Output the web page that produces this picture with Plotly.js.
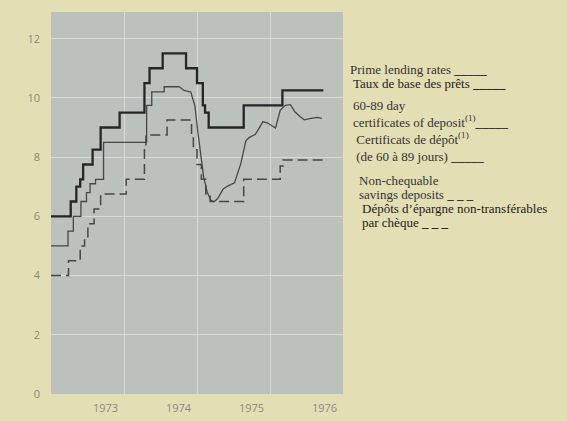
<!DOCTYPE html>
<html>
<head>
<meta charset="utf-8">
<script src="https://cdn.plot.ly/plotly-3.0.1.min.js"></script>
<style>
  html, body { margin: 0; padding: 0; background: #e3deb4; }
  #chart { width: 567px; height: 421px; }
</style>
</head>
<body>
<div id="chart"></div>
<script>
// ---- Data (x in decimal years, y in percent) ----
// Prime lending rates: start of each rate level
var primeX = [1973.0, 1973.27, 1973.347, 1973.40, 1973.44, 1973.57, 1973.68, 1973.94, 1974.28, 1974.35, 1974.53, 1974.85, 1975.0, 1975.08, 1975.11, 1975.16, 1975.64, 1976.17, 1976.73];
var primeY = [6.0, 6.5, 7.0, 7.25, 7.75, 8.25, 9.0, 9.5, 10.5, 11.0, 11.5, 11.0, 10.5, 9.75, 9.5, 9.0, 9.75, 10.25, 10.25];

// 60-89 day certificates of deposit: stepped part (1973-1974)
var cdStepX = [1973.0, 1973.233, 1973.306, 1973.41, 1973.486, 1973.535, 1973.61, 1973.72, 1974.31, 1974.38, 1974.55, 1974.76];
var cdStepY = [5.0, 5.5, 6.0, 6.5, 6.8, 7.1, 7.25, 8.5, 9.75, 10.2, 10.375, 10.375];
// continuous part (late 1974 - 1976)
var cdX = [1974.76, 1974.82, 1974.915, 1974.97, 1975.01, 1975.05, 1975.09, 1975.14, 1975.19, 1975.235, 1975.283, 1975.358, 1975.426, 1975.514, 1975.60, 1975.669, 1975.714, 1975.80, 1975.904, 1975.968, 1976.075, 1976.14, 1976.21, 1976.28, 1976.34, 1976.41, 1976.47, 1976.56, 1976.65, 1976.71];
var cdY = [10.375, 10.25, 10.2, 9.75, 8.88, 8.11, 7.35, 6.81, 6.54, 6.49, 6.6, 6.92, 7.03, 7.13, 7.78, 8.55, 8.66, 8.77, 9.2, 9.15, 8.98, 9.58, 9.75, 9.77, 9.53, 9.37, 9.26, 9.31, 9.34, 9.31];

// Non-chequable savings deposits: start of each rate level
var savX = [1973.0, 1973.24, 1973.40, 1973.46, 1973.505, 1973.59, 1973.68, 1974.03, 1974.28, 1974.30, 1974.59, 1974.925, 1974.95, 1975.0, 1975.06, 1975.12, 1975.18, 1975.64, 1976.14, 1976.18, 1976.75];
var savY = [4.0, 4.5, 5.0, 5.25, 5.75, 6.25, 6.75, 7.25, 8.25, 8.75, 9.25, 8.75, 8.25, 7.75, 7.25, 6.75, 6.5, 7.25, 7.7, 7.9, 7.9];

// Axis labels
var yearGrid = [1974, 1975, 1976];
var yearCenters = [1973.5, 1974.5, 1975.5, 1976.5];
var yearLabels = ['1973', '1974', '1975', '1976'];
var yTicks = [0, 2, 4, 6, 8, 10, 12];

// Legend text lines
var legendLines = [
  {t: 'Prime lending rates <b>_____</b>', fr: false},
  {t: 'Taux de base des prêts <b>_____</b>', fr: true},
  {t: '60-89 day<br>certificates of deposit<sup>(1)</sup><b>_____</b><br>&nbsp;Certificats de dépôt<sup>(1)</sup><br>&nbsp;(de 60 à 89 jours) <b>_____</b>', fr: false},
  {t: 'Non-chequable', fr: false},
  {t: 'savings deposits <b>_ _ _</b>', fr: false},
  {t: 'Dépôts d\u2019épargne non-transférables', fr: true},
  {t: 'par chèque <b>_ _ _</b>', fr: true}
];

// ---- Layout geometry ----
var W = 567, H = 421;
var M = {l: 51, r: 224, t: 12, b: 27};
var plotW = W - M.l - M.r, plotH = H - M.t - M.b;
var legendPx = [[348, 69], [351, 83], [351, 131], [357, 180], [357, 194], [360, 208], [360, 223]];

var dark = '#262626';
var mid = '#474747';

var traces = [
  {x: primeX, y: primeY, type: 'scatter', mode: 'lines',
   line: {shape: 'hv', color: dark, width: 2.3}, hoverinfo: 'skip'},
  {x: cdStepX, y: cdStepY, type: 'scatter', mode: 'lines',
   line: {shape: 'hv', color: mid, width: 1.3}, hoverinfo: 'skip'},
  {x: cdX, y: cdY, type: 'scatter', mode: 'lines',
   line: {shape: 'linear', color: mid, width: 1.3}, hoverinfo: 'skip'},
  {x: savX, y: savY, type: 'scatter', mode: 'lines',
   line: {shape: 'hv', color: mid, width: 1.5, dash: '10px,5px'}, hoverinfo: 'skip'}
];

var annotations = legendLines.map(function (d, i) {
  var p = legendPx[i];
  return {
    xref: 'paper', yref: 'paper',
    x: (p[0] - M.l) / plotW, y: (H - M.b - p[1]) / plotH,
    xanchor: 'left', yanchor: 'middle', showarrow: false,
    text: d.t, align: 'left',
    font: {family: 'Liberation Serif, Times New Roman, serif', size: 13,
           color: d.fr ? '#1c1c1c' : '#333333'}
  };
});

var layout = {
  width: W, height: H,
  margin: M,
  paper_bgcolor: '#e3deb4',
  plot_bgcolor: '#bbc1bc',
  showlegend: false,
  xaxis: {
    range: [1973, 1977],
    tickmode: 'array', tickvals: yearCenters, ticktext: yearLabels,
    showgrid: false, zeroline: false, showline: false, ticks: '',
    ticklabelstandoff: 6, ticklabelshift: 18,
    tickfont: {family: 'Open Sans, DejaVu Sans, sans-serif', size: 11, color: '#8a8a7e'},
    minor: {tickmode: 'array', tickvals: yearGrid, showgrid: true,
            gridcolor: '#d9dccd', gridwidth: 1, ticks: ''}
  },
  yaxis: {
    range: [0, 12.9],
    tickmode: 'array', tickvals: yTicks,
    showgrid: true, gridcolor: '#d9dccd', gridwidth: 1,
    zeroline: false, showline: false, ticks: '',
    ticklabelstandoff: 10,
    tickfont: {family: 'Open Sans, DejaVu Sans, sans-serif', size: 11, color: '#8a8a7e'}
  },
  annotations: annotations
};

Plotly.newPlot('chart', traces, layout, {staticPlot: true, displayModeBar: false});
</script>
</body>
</html>
